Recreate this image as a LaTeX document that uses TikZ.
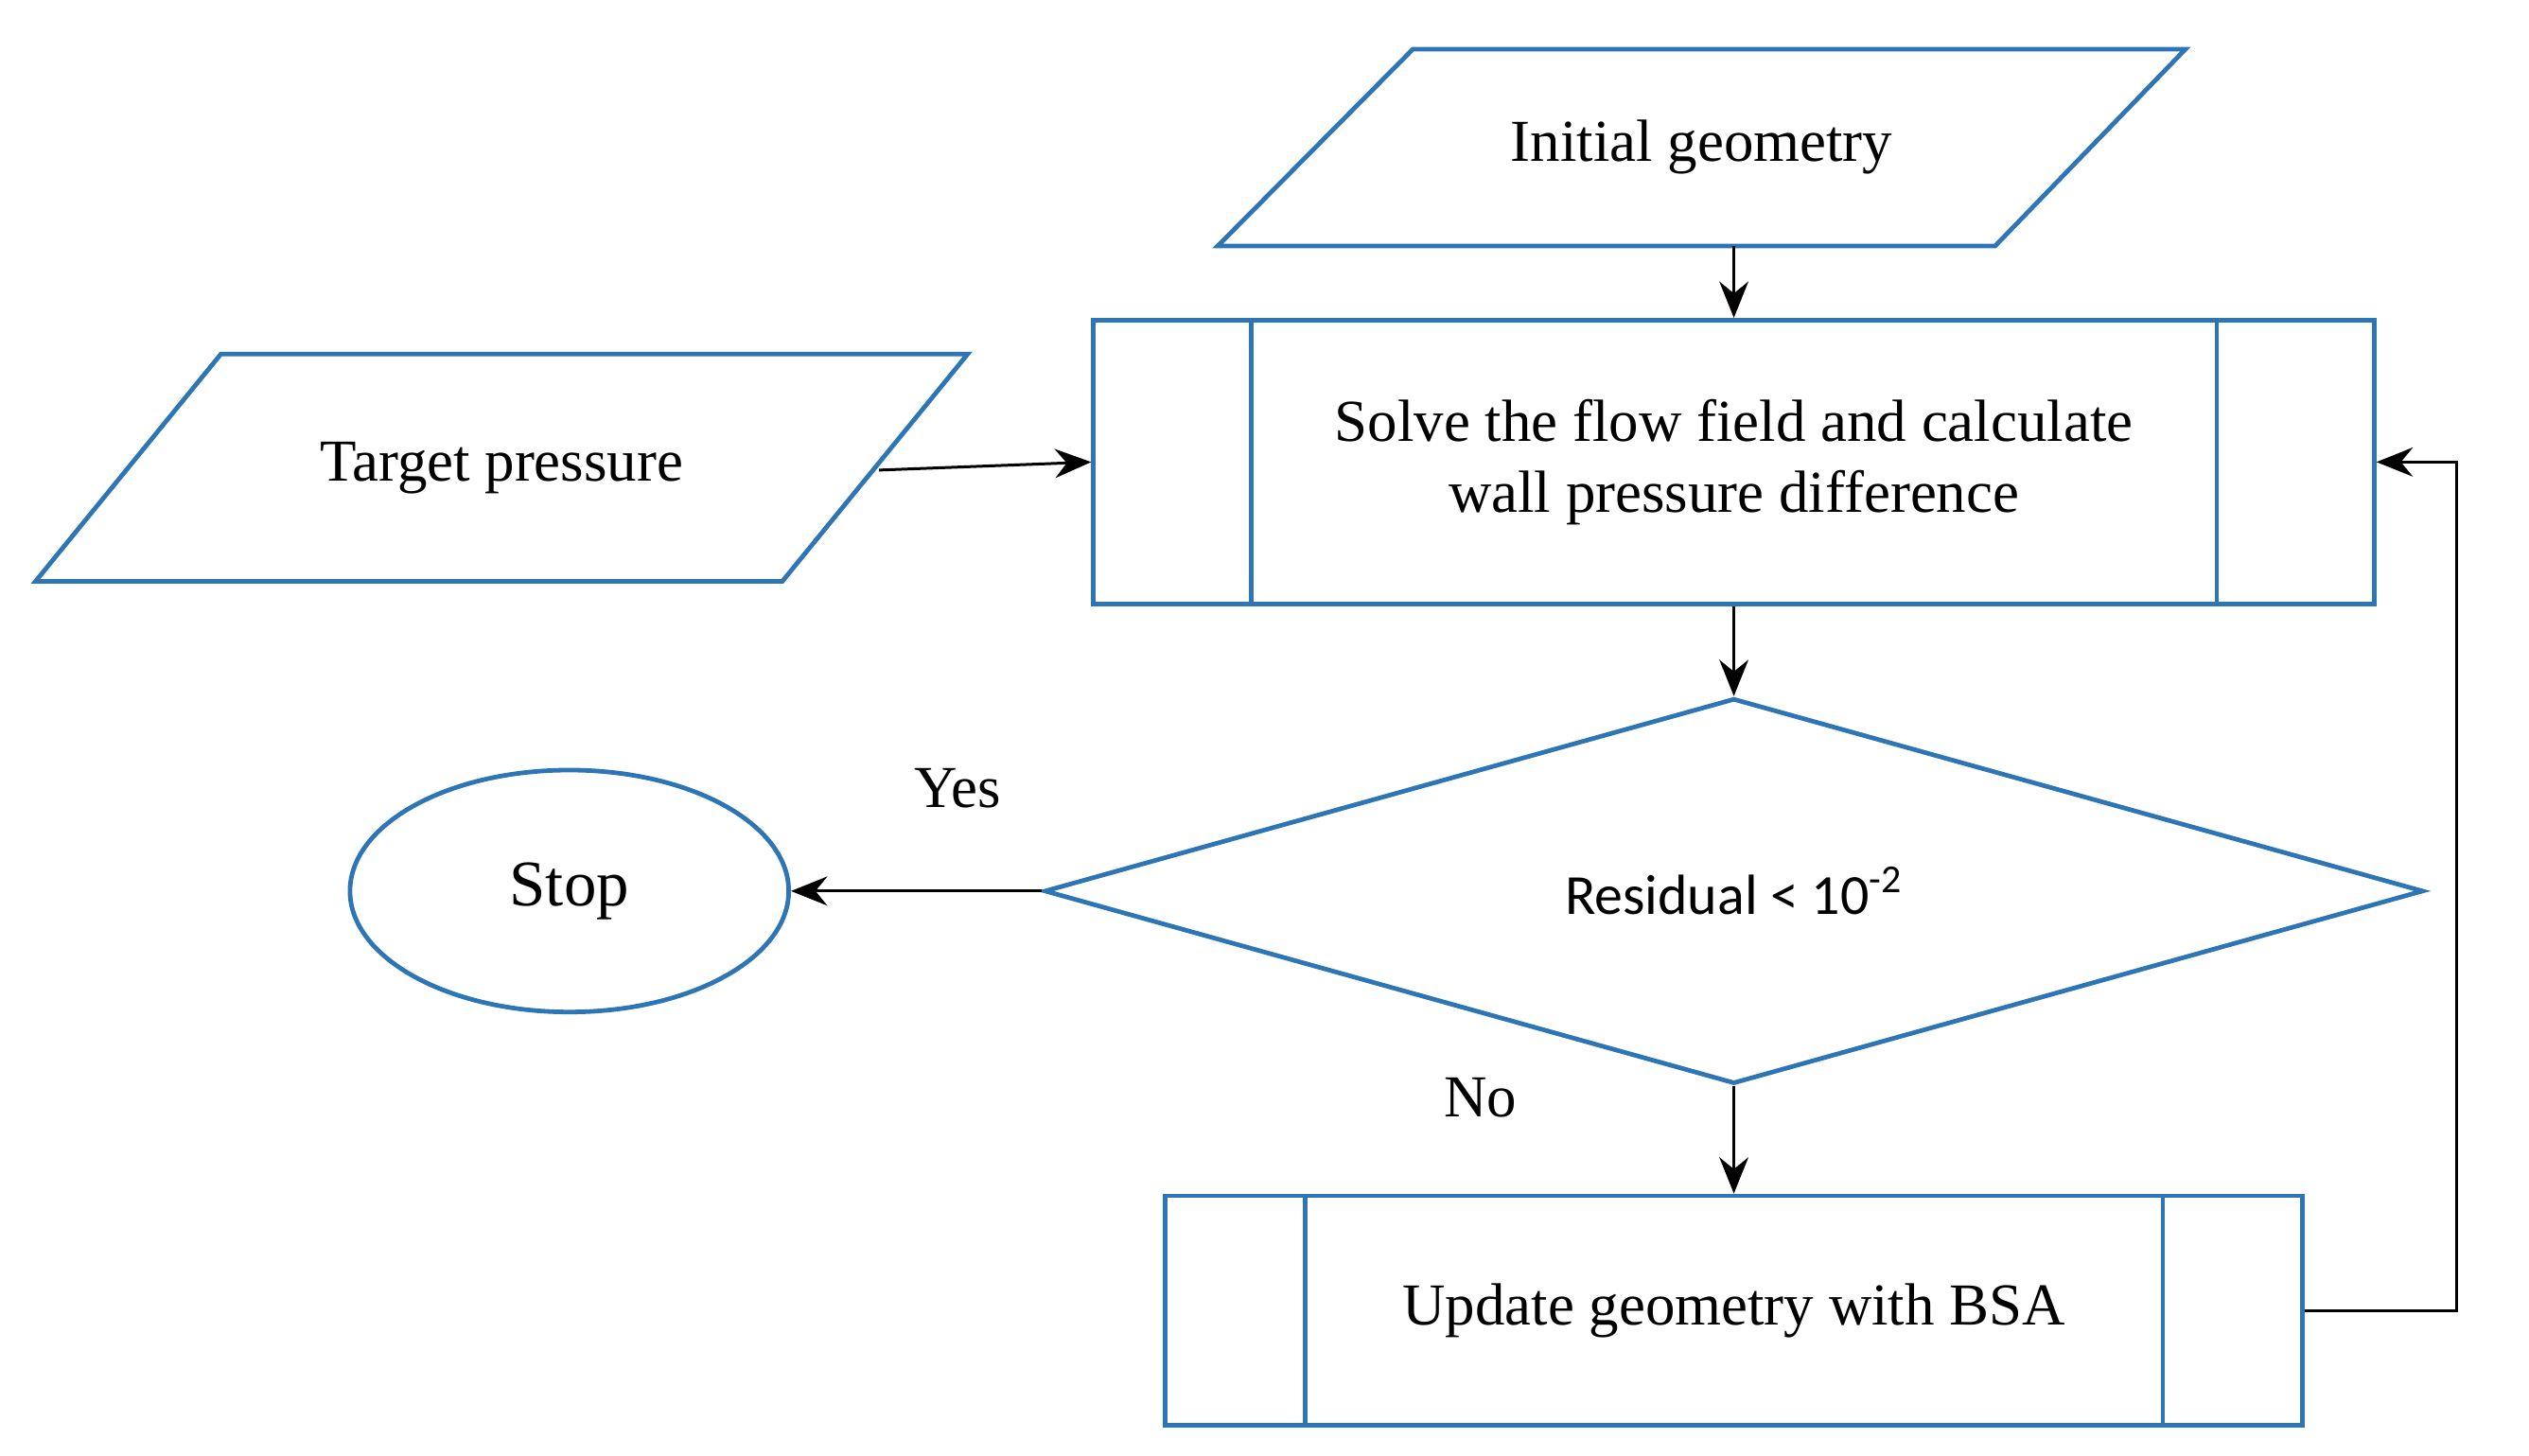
\documentclass[tikz,border=0pt]{standalone}
\usepackage{fontspec}
\setmainfont{Liberation Serif}
\newfontfamily\calib{Carlito}
\usetikzlibrary{shapes.geometric,arrows.meta}
\definecolor{flowblue}{HTML}{2E75B6}
\begin{document}
\begin{tikzpicture}[
        box/.style={draw=flowblue,line width=1.6pt,rectangle,inner sep=0pt},
        io/.style={draw=flowblue,line width=1.6pt,line join=miter},
        test/.style={draw=flowblue,line width=1.6pt,diamond,inner sep=0pt},
        term/.style={draw=flowblue,line width=1.6pt,ellipse,inner sep=0pt},
        flow/.style={draw=black,line width=1pt,-{Stealth[length=4.5mm,width=3.6mm]}},
        lbl/.style={font=\fontsize{21}{25}\selectfont},
        ]
    \useasboundingbox (0,-0.2) rectangle (31.36,17.85);
    % input parallelograms
    \draw[io] (17.52,17.24) -- (27.1,17.24) -- (24.74,14.8) -- (15.1,14.8) -- cycle;
    \node (init) [lbl] at (21.1,16.02) {Initial geometry};
    \coordinate (initbot) at (21.5,14.8);
    \draw[io] (2.74,13.46) -- (12,13.46) -- (9.7,10.64) -- (0.44,10.64) -- cycle;
    \node (target) [lbl] at (6.22,12.05) {Target pressure};
    \coordinate (targetend) at (10.9,12.02);
    \node (solve) [box,minimum width=15.88cm,minimum height=3.52cm,align=center,
        lbl] at (21.5,12.12) {Solve the flow field and calculate\\wall pressure difference};
    \node (check) [test,minimum width=17.1cm,minimum height=4.28cm,
        font=\calib\fontsize{20}{24}\selectfont] at (21.5,6.8) {Residual < 10\textsuperscript{-2}};
    \node (stop) [term,minimum width=5.44cm,minimum height=3cm,
        font=\fontsize{23}{27}\selectfont] at (7.06,6.8) {Stop};
    \node (update) [box,minimum width=14.1cm,minimum height=2.84cm,lbl] at (21.5,1.6) {Update geometry with BSA};
    % sub-process bars
    \draw[flowblue,line width=1.6pt] ([xshift=1.98cm]solve.north west) -- ([xshift=1.98cm]solve.south west);
    \draw[flowblue,line width=1.6pt] ([xshift=-1.98cm]solve.north east) -- ([xshift=-1.98cm]solve.south east);
    \draw[flowblue,line width=1.6pt] ([xshift=1.76cm]update.north west) -- ([xshift=1.76cm]update.south west);
    \draw[flowblue,line width=1.6pt] ([xshift=-1.76cm]update.north east) -- ([xshift=-1.76cm]update.south east);
    % connectors
    \draw[flow] (initbot) -- (solve.north);
    \draw[flow] (targetend) -- (solve.west);
    \draw[flow] (solve.south) -- (check.north);
    \draw[flow] (check.west) -- (stop.east);
    \draw[flow] (check.south) -- (update.north);
    \draw[flow] (update.east) -| (30.46,12.12) -- (solve.east);
    \node (yes) [lbl] at (11.88,8.08) {Yes};
    \node (no) [lbl] at (18.36,4.24) {No};
\end{tikzpicture}
\end{document}
